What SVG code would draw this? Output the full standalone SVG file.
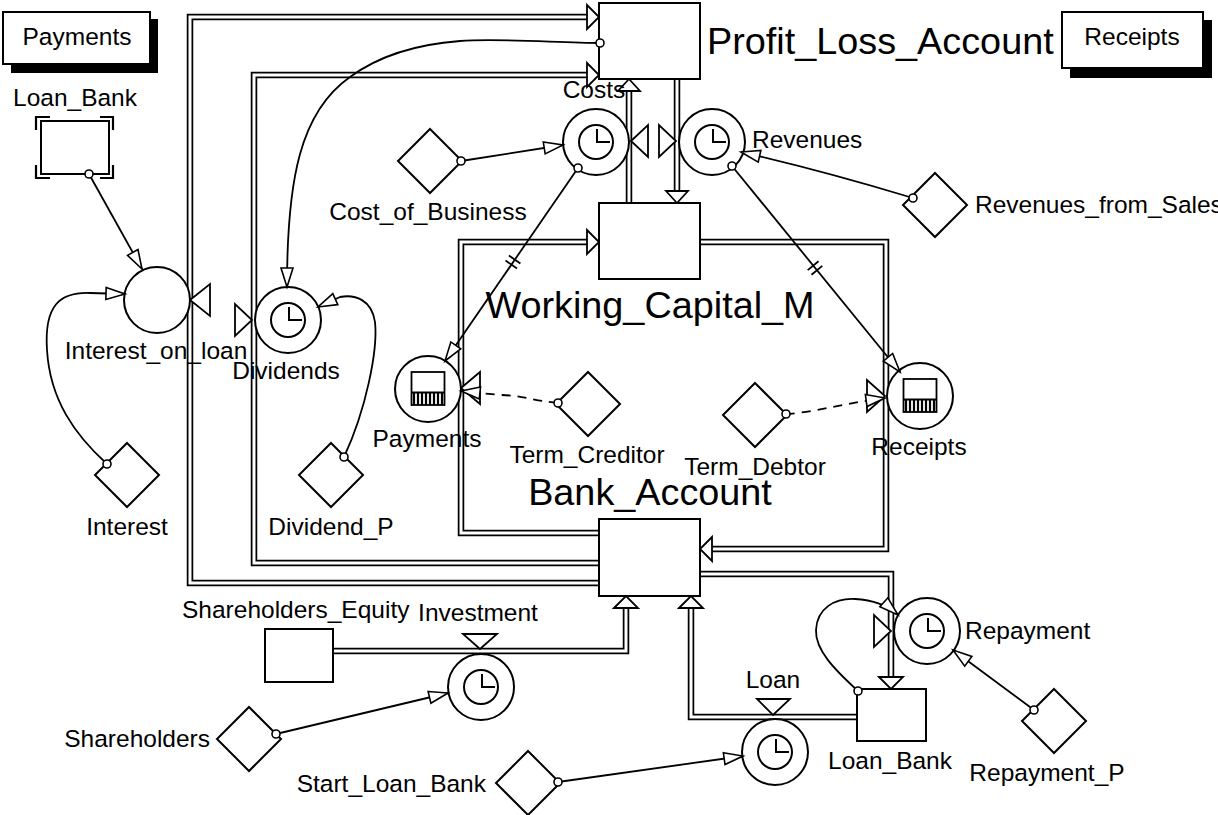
<svg xmlns="http://www.w3.org/2000/svg" width="1218" height="815" viewBox="0 0 1218 815">
<style>
.lbl{font-family:"Liberation Sans",Arial,Helvetica,sans-serif;font-size:24.5px;fill:#000}
.big{font-family:"Liberation Sans",Arial,Helvetica,sans-serif;font-size:37.8px;fill:#000}
.mid{text-anchor:middle}
.end{text-anchor:end}
.stock{fill:#fff;stroke:#000;stroke-width:2}
.node{fill:#fff;stroke:#000;stroke-width:2}
.pipe{fill:none;stroke:#000;stroke-width:6.5;stroke-linejoin:miter}
.pipein{fill:none;stroke:#fff;stroke-width:3;stroke-linejoin:miter}
.valve{fill:#fff;stroke:#000;stroke-width:1.8;stroke-linejoin:miter}
.link{fill:none;stroke:#000;stroke-width:1.8;marker-end:url(#ah)}
.dash{stroke-dasharray:9,7}
.tick{stroke:#000;stroke-width:1.8}
.conn{fill:#fff;stroke:#000;stroke-width:1.6}
.hand{fill:none;stroke:#000;stroke-width:2}
</style>
<defs>
<marker id="ah" markerUnits="userSpaceOnUse" markerWidth="24" markerHeight="16" refX="20" refY="7" orient="auto" overflow="visible">
<path d="M1,1 L20,7 L1,13 Z" fill="#fff" stroke="#000" stroke-width="1.6"/>
</marker>
<g id="clk">
<circle r="33" class="node"/>
<circle r="17" class="node"/>
<path d="M1,-13 V0 H14" class="hand"/>
</g>
<g id="ledger">
<circle r="33" class="node"/>
<rect x="-16.5" y="-17" width="33" height="33" fill="#fff" stroke="#000" stroke-width="1.8"/>
<line x1="-16.5" y1="3.5" x2="16.5" y2="3.5" stroke="#000" stroke-width="2"/>
<path d="M-14,4 V16 M-10,4 V16 M-6,4 V16 M-2,4 V16 M2,4 V16 M6,4 V16 M10,4 V16 M14,4 V16" stroke="#000" stroke-width="2.2"/>
</g>
</defs>
<rect width="1218" height="815" fill="#fff"/>

<g id="connectors">
<g id="pipes">
<path class="pipe" d="M599,583 H190 V17 H588"/>
<path class="pipein" d="M599,583 H190 V17 H588"/>
<path class="pipe" d="M599,563 H254 V75 H588"/>
<path class="pipein" d="M599,563 H254 V75 H588"/>
<path class="pipe" d="M599,533 H461 V242 H588"/>
<path class="pipein" d="M599,533 H461 V242 H588"/>
<path class="pipe" d="M700,242 H886 V549 H711"/>
<path class="pipein" d="M700,242 H886 V549 H711"/>
<path class="pipe" d="M629,203 V90"/>
<path class="pipein" d="M629,203 V90"/>
<path class="pipe" d="M677,79 V192"/>
<path class="pipein" d="M677,79 V192"/>
<path class="pipe" d="M333,651 H626 V607"/>
<path class="pipein" d="M333,651 H626 V607"/>
<path class="pipe" d="M857,717 H691 V607"/>
<path class="pipein" d="M857,717 H691 V607"/>
<path class="pipe" d="M700,574 H891 V678"/>
<path class="pipein" d="M700,574 H891 V678"/>
<polygon class="valve" points="587,5 599,17 587,29"/>
<polygon class="valve" points="587,63 599,75 587,87"/>
<polygon class="valve" points="587,230 599,242 587,254"/>
<polygon class="valve" points="712,537 700,549 712,561"/>
<polygon class="valve" points="618,91 629,79 640,91"/>
<polygon class="valve" points="666,191 677,203 688,191"/>
<polygon class="valve" points="614,608 626,596 638,608"/>
<polygon class="valve" points="679,608 691,596 703,608"/>
<polygon class="valve" points="879,677 891,689 903,677"/>
</g>
</g>

<g id="Profit_Loss_Account">
<rect class="stock" x="599" y="3" width="101" height="76"/>
<text class="big" x="707" y="54">Profit_Loss_Account</text>
</g>
<g id="Working_Capital_M">
<rect class="stock" x="599" y="203" width="101" height="76"/>
<text class="big mid" x="650" y="318">Working_Capital_M</text>
</g>
<g id="Bank_Account">
<rect class="stock" x="599" y="519" width="101" height="77"/>
<text class="big mid" x="650" y="505">Bank_Account</text>
</g>
<g id="Shareholders_Equity">
<rect class="stock" x="265" y="629" width="68" height="53"/>
<text class="lbl" x="182" y="618">Shareholders_Equity</text>
</g>
<g id="Loan_Bank">
<rect class="stock" x="857" y="689" width="69" height="52"/>
<text class="lbl mid" x="890" y="769">Loan_Bank</text>
</g>
<g id="Loan_Bank_ghost">
<rect class="stock" x="41" y="121" width="68" height="53"/>
<path d="M36,130 V117 H50 M100,117 H113 V130 M36,165 V178 H50 M100,178 H113 V165" fill="none" stroke="#000" stroke-width="2.2"/>
<text class="lbl mid" x="75" y="106">Loan_Bank</text>
</g>

<g id="Payments_button">
<rect x="11" y="19" width="147" height="54" fill="#000"/>
<rect x="3" y="12" width="147" height="52" fill="#fff" stroke="#000" stroke-width="2"/>
<text class="lbl mid" x="77" y="45">Payments</text>
</g>
<g id="Receipts_button">
<rect x="1070" y="20" width="142" height="58" fill="#000"/>
<rect x="1062" y="12" width="141" height="56" fill="#fff" stroke="#000" stroke-width="2"/>
<text class="lbl mid" x="1132" y="45">Receipts</text>
</g>

<g id="Interest_on_loan">
<circle class="node" cx="157" cy="300" r="33"/>
<polygon class="valve" points="190,300 210,284 210,316"/>
<text class="lbl mid" x="156" y="359">Interest_on_loan</text>
</g>
<g id="Dividends">
<use href="#clk" x="288" y="320"/>
<polygon class="valve" points="235,304 235,336 252,320"/>
<text class="lbl mid" x="286" y="379">Dividends</text>
</g>
<g id="Costs">
<use href="#clk" x="596" y="142"/>
<polygon class="valve" points="631,141 648,125 648,157"/>
<text class="lbl mid" x="594" y="98">Costs</text>
</g>
<g id="Revenues">
<use href="#clk" x="712" y="142"/>
<polygon class="valve" points="659,125 659,157 676,141"/>
<text class="lbl" x="752" y="148">Revenues</text>
</g>
<g id="Payments">
<use href="#ledger" x="428" y="389"/>
<polygon class="valve" points="461,388 480,372 480,404"/>
<text class="lbl mid" x="427" y="447">Payments</text>
</g>
<g id="Receipts">
<use href="#ledger" x="920" y="396"/>
<polygon class="valve" points="867,380 867,412 885,396"/>
<text class="lbl mid" x="919" y="455">Receipts</text>
</g>
<g id="Investment">
<use href="#clk" x="481" y="687"/>
<polygon class="valve" points="463,634 497,634 480,649"/>
<text class="lbl mid" x="478" y="621">Investment</text>
</g>
<g id="Loan">
<use href="#clk" x="775" y="752"/>
<polygon class="valve" points="757,699 790,699 773,715"/>
<text class="lbl mid" x="773" y="688">Loan</text>
</g>
<g id="Repayment">
<use href="#clk" x="927" y="631"/>
<polygon class="valve" points="874,615 874,647 891,631"/>
<text class="lbl" x="965" y="639">Repayment</text>
</g>

<g id="Cost_of_Business">
<polygon class="node" points="430,129 462,161 430,193 398,161"/>
<text class="lbl mid" x="428" y="220">Cost_of_Business</text>
</g>
<g id="Revenues_from_Sales">
<polygon class="node" points="935,173 967,205 935,237 903,205"/>
<text class="lbl" x="975" y="213">Revenues_from_Sales</text>
</g>
<g id="Interest">
<polygon class="node" points="127,443 159,475 127,507 95,475"/>
<text class="lbl mid" x="127" y="535">Interest</text>
</g>
<g id="Dividend_P">
<polygon class="node" points="331,443 363,475 331,507 299,475"/>
<text class="lbl mid" x="331" y="535">Dividend_P</text>
</g>
<g id="Term_Creditor">
<polygon class="node" points="588,372 620,404 588,436 556,404"/>
<text class="lbl mid" x="587" y="463">Term_Creditor</text>
</g>
<g id="Term_Debtor">
<polygon class="node" points="755,383 787,415 755,447 723,415"/>
<text class="lbl mid" x="755" y="475">Term_Debtor</text>
</g>
<g id="Shareholders">
<polygon class="node" points="249,707 281,739 249,771 217,739"/>
<text class="lbl end" x="210" y="747">Shareholders</text>
</g>
<g id="Start_Loan_Bank">
<polygon class="node" points="528,751 560,783 528,815 496,783"/>
<text class="lbl end" x="486" y="792">Start_Loan_Bank</text>
</g>
<g id="Repayment_P">
<polygon class="node" points="1054,689 1086,721 1054,753 1022,721"/>
<text class="lbl mid" x="1047" y="781">Repayment_P</text>
</g>

<g id="links">
<path class="link" d="M89,174 L142,269"/>
<path class="link" d="M107,464 C75,435 50,400 47,350 C44,305 60,292 90,293 L125,294"/>
<path class="link" d="M600,43 C560,43 500,38 460,41 C420,44 380,55 350,77 C300,112 287,180 287,287"/>
<path class="link" d="M344,457 C366,410 378,350 375,322 C372,300 355,294 340,297 L318,307"/>
<path class="link" d="M461,161 L563,145"/>
<path class="link" d="M913,198 Q820,170 741,152"/>
<path class="link" d="M578,168 L445,361"/>
<path class="link" d="M732,166 L900,372"/>
<path class="link dash" d="M558,403 C535,401 520,395 500,395 L461,391"/>
<path class="link dash" d="M786,414 C810,413 840,404 885,398"/>
<path class="link" d="M276,734 L448,693"/>
<path class="link" d="M558,782 L743,756"/>
<path class="link" d="M858,691 C835,670 815,650 816,630 C817,608 835,598 855,599 C875,600 888,606 898,615"/>
<path class="link" d="M1034,710 L953,650"/>
<line class="tick" x1="505.5" y1="260.5" x2="517" y2="268.5"/>
<line class="tick" x1="508.9" y1="255.5" x2="520.4" y2="263.5"/>
<line class="tick" x1="807.7" y1="270.1" x2="818.5" y2="261.3"/>
<line class="tick" x1="811.5" y1="274.7" x2="822.3" y2="265.9"/>
<circle class="conn" cx="89" cy="174" r="4"/>
<circle class="conn" cx="107" cy="464" r="4"/>
<circle class="conn" cx="344" cy="457" r="4"/>
<circle class="conn" cx="461" cy="161" r="4"/>
<circle class="conn" cx="913" cy="198" r="4"/>
<circle class="conn" cx="578" cy="168" r="4"/>
<circle class="conn" cx="732" cy="166" r="4"/>
<circle class="conn" cx="558" cy="403" r="4"/>
<circle class="conn" cx="786" cy="414" r="4"/>
<circle class="conn" cx="276" cy="734" r="4"/>
<circle class="conn" cx="558" cy="782" r="4"/>
<circle class="conn" cx="858" cy="691" r="4"/>
<circle class="conn" cx="1034" cy="710" r="4"/>
<circle class="conn" cx="600" cy="43" r="4"/>
</g>
</svg>
